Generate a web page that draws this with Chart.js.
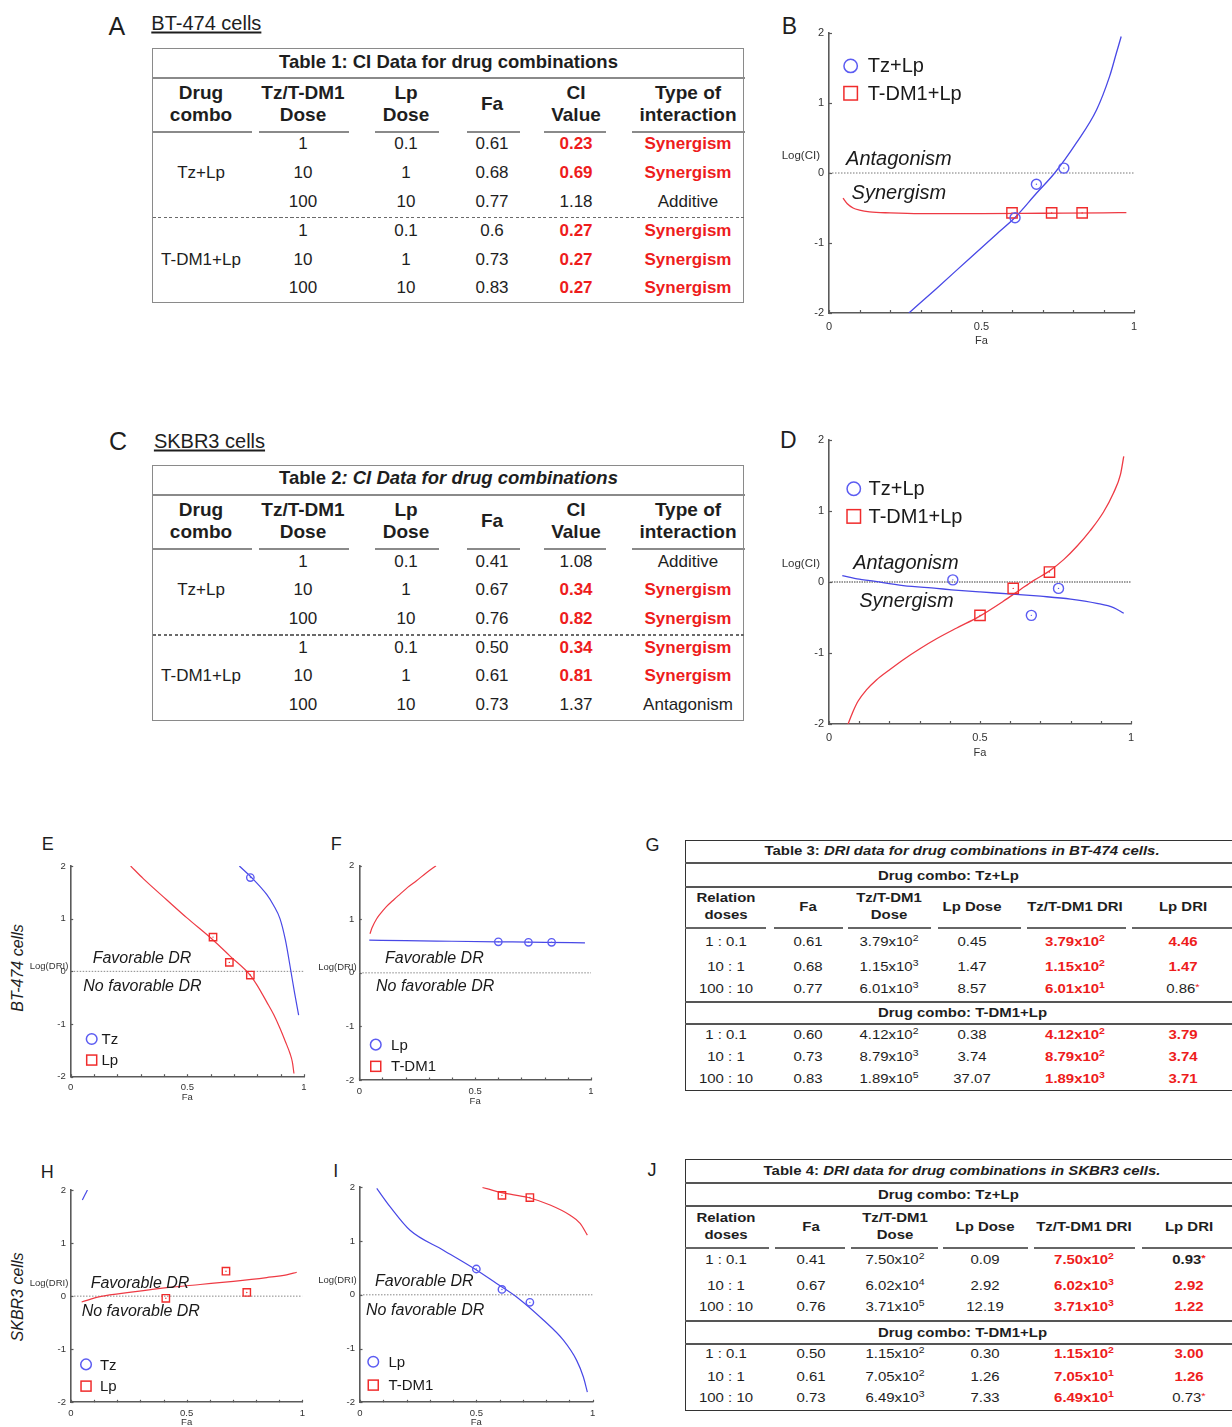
<!DOCTYPE html>
<html><head><meta charset="utf-8">
<script src="https://cdn.jsdelivr.net/npm/chart.js@4.4.1/dist/chart.umd.min.js"></script>
<style>
html,body{margin:0;padding:0;background:#fff;overflow:hidden}
body{width:1232px;height:1427px;position:relative;font-family:"Liberation Sans",Arial,Helvetica,sans-serif;color:#1e1e1e}
.t{position:absolute;white-space:nowrap;line-height:1.15}
canvas{position:absolute}
sup{font-size:0.7em;line-height:0;vertical-align:0.5em}
</style></head><body>
<script>
// ================= DATA =================
// Panel B : BT-474, Log(CI) vs Fa
const B_tzLp_fa = [0.61, 0.68, 0.77];
const B_tzLp_logCI = [-0.64, -0.16, 0.07];
const B_tdm1Lp_fa = [0.60, 0.73, 0.83];
const B_tdm1Lp_logCI = [-0.57, -0.57, -0.57];
const B_tzLp_curveFa = [0.262,0.35,0.461,0.55,0.609,0.68,0.74,0.811,0.877,0.92,0.942,0.958];
const B_tzLp_curveLog = [-2.0,-1.66,-1.22,-0.87,-0.64,-0.29,0.0,0.43,0.9,1.38,1.71,1.95];
const B_tdm1Lp_curveFa = [0.046,0.06,0.079,0.1,0.133,0.2,0.3,0.5,0.7,0.9,0.975];
const B_tdm1Lp_curveLog = [-0.36,-0.44,-0.5,-0.53,-0.555,-0.57,-0.58,-0.58,-0.575,-0.57,-0.565];
// Panel D : SKBR3, Log(CI) vs Fa
const D_tzLp_fa = [0.41, 0.67, 0.76];
const D_tzLp_logCI = [0.03, -0.47, -0.09];
const D_tdm1Lp_fa = [0.50, 0.61, 0.73];
const D_tdm1Lp_logCI = [-0.47, -0.09, 0.14];
const D_tzLp_curveFa = [0.044,0.1,0.135,0.246,0.356,0.406,0.5,0.607,0.7,0.8,0.887,0.942,0.976];
const D_tzLp_curveLog = [0.09,0.04,0.02,-0.05,-0.09,-0.11,-0.14,-0.17,-0.2,-0.24,-0.3,-0.36,-0.44];
const D_tdm1Lp_curveFa = [0.063,0.080,0.096,0.124,0.157,0.201,0.246,0.301,0.356,0.423,0.498,0.577,0.633,0.677,0.728,0.777,0.821,0.865,0.909,0.942,0.965,0.976];
const D_tdm1Lp_curveLog = [-2.0,-1.82,-1.68,-1.52,-1.38,-1.235,-1.094,-0.94,-0.80,-0.648,-0.484,-0.272,-0.108,0.019,0.15,0.315,0.503,0.723,0.986,1.254,1.512,1.77];
// Panel E : BT-474 Tz+Lp, Log(DRI)
const E_tz_fa = [0.77];
const E_tz_logDRI = [1.78];
const E_lp_fa = [0.61, 0.68, 0.77];
const E_lp_logDRI = [0.65, 0.17, -0.07];
const E_tz_curveFa = [0.723,0.771,0.84,0.87,0.897,0.92,0.944,0.96,0.977];
const E_tz_curveLog = [2.0,1.8,1.46,1.25,1.0,0.6,0.0,-0.42,-0.83];
const E_lp_curveFa = [0.257,0.311,0.411,0.497,0.609,0.683,0.769,0.8,0.84,0.87,0.897,0.92,0.94,0.95,0.957];
const E_lp_curveLog = [2.0,1.76,1.36,1.02,0.6,0.29,-0.07,-0.27,-0.58,-0.82,-1.08,-1.33,-1.56,-1.72,-1.94];
// Panel F : BT-474 T-DM1+Lp, Log(DRI)
const F_lp_fa = [0.60, 0.73, 0.83];
const F_lp_logDRI = [0.58, 0.57, 0.57];
const F_lp_curveFa = [0.043,0.2,0.4,0.6,0.8,0.974];
const F_lp_curveLog = [0.61,0.6,0.59,0.58,0.57,0.56];
const F_tdm1_curveFa = [0.046,0.055,0.075,0.1,0.118,0.15,0.176,0.21,0.247,0.29,0.331];
const F_tdm1_curveLog = [0.73,0.84,1.01,1.15,1.24,1.37,1.47,1.6,1.72,1.87,2.0];
// Panel H : SKBR3 Tz+Lp, Log(DRI)
const H_lp_fa = [0.41, 0.67, 0.76];
const H_lp_logDRI = [-0.04, 0.47, 0.07];
const H_tz_curveFa = [0.049, 0.071];
const H_tz_curveLog = [1.81, 2.0];
const H_lp_curveFa = [0.046,0.125,0.269,0.414,0.558,0.702,0.846,0.932,0.976];
const H_lp_curveLog = [-0.11,-0.01,0.08,0.16,0.22,0.28,0.35,0.40,0.45];
// Panel I : SKBR3 T-DM1+Lp, Log(DRI)
const I_lp_fa = [0.50, 0.61, 0.73];
const I_lp_logDRI = [0.48, 0.10, -0.14];
const I_tdm1_fa = [0.61, 0.73];
const I_tdm1_logDRI = [1.85, 1.81];
const I_lp_curveFa = [0.072,0.129,0.215,0.358,0.497,0.587,0.673,0.788,0.874,0.931,0.96,0.977];
const I_lp_curveLog = [1.98,1.64,1.2,0.83,0.47,0.21,-0.04,-0.47,-0.845,-1.22,-1.53,-1.81];
const I_tdm1_curveFa = [0.526,0.609,0.723,0.817,0.903,0.946,0.977];
const I_tdm1_curveLog = [2.0,1.9,1.81,1.67,1.48,1.33,1.11];
// Tick labels
const xTickLabelValues = [0, 0.5, 1];
const xTickLabelTexts = ['0', '0.5', '1'];

// Tables 1 & 2 (CI data)
const ciHeaders = [['Drug','combo'],['Tz/T-DM1','Dose'],['Lp','Dose'],['Fa'],['CI','Value'],['Type of','interaction']];
const ciCombos = ['Tz+Lp','T-DM1+Lp'];
const ciTzDose = ['1','10','100','1','10','100'];
const ciLpDose = ['0.1','1','10','0.1','1','10'];
const t1_fa = ['0.61','0.68','0.77','0.6','0.73','0.83'];
const t1_ci = ['0.23','0.69','1.18','0.27','0.27','0.27'];
const t1_type = ['Synergism','Synergism','Additive','Synergism','Synergism','Synergism'];
const t2_fa = ['0.41','0.67','0.76','0.50','0.61','0.73'];
const t2_ci = ['1.08','0.34','0.82','0.34','0.81','1.37'];
const t2_type = ['Additive','Synergism','Synergism','Synergism','Synergism','Antagonism'];
// Tables 3 & 4 (DRI data)
const driHeaders = [['Relation','doses'],['Fa'],['Tz/T-DM1','Dose'],['Lp Dose'],['Tz/T-DM1 DRI'],['Lp DRI']];
const driRelation = ['1 : 0.1','10 : 1','100 : 10','1 : 0.1','10 : 1','100 : 10'];
const t3_fa = ['0.61','0.68','0.77','0.60','0.73','0.83'];
const t3_tzDose = ['3.79x10^2','1.15x10^3','6.01x10^3','4.12x10^2','8.79x10^3','1.89x10^5'];
const t3_lpDose = ['0.45','1.47','8.57','0.38','3.74','37.07'];
const t3_tzDRI = ['3.79x10^2','1.15x10^2','6.01x10^1','4.12x10^2','8.79x10^2','1.89x10^3'];
const t3_lpDRI = ['4.46','1.47','0.86*','3.79','3.74','3.71'];
const t3_lpDRIstyle = ['r','r','k','r','r','r'];
const t4_fa = ['0.41','0.67','0.76','0.50','0.61','0.73'];
const t4_tzDose = ['7.50x10^2','6.02x10^4','3.71x10^5','1.15x10^2','7.05x10^2','6.49x10^3'];
const t4_lpDose = ['0.09','2.92','12.19','0.30','1.26','7.33'];
const t4_tzDRI = ['7.50x10^2','6.02x10^3','3.71x10^3','1.15x10^2','7.05x10^1','6.49x10^1'];
const t4_lpDRI = ['0.93*','2.92','1.22','3.00','1.26','0.73*'];
const t4_lpDRIstyle = ['kb','r','r','r','r','k'];

// ================= helpers =================
const FONT = '"Liberation Sans", Arial, Helvetica, sans-serif';
const RED = '#ee1c1c';
function T(html, x, y, o) {
  o = o || {};
  const d = document.createElement('div'); d.className = 't'; d.innerHTML = html;
  const s = d.style;
  s.fontSize = (o.size || 14) + 'px';
  if (o.bold) s.fontWeight = 'bold';
  if (o.italic) s.fontStyle = 'italic';
  if (o.color) s.color = o.color;
  if (o.u) { s.textDecoration = 'underline'; s.textUnderlineOffset = '2px'; }
  s.left = x + 'px'; s.top = y + 'px';
  const ax = o.align === 'left' ? '0' : (o.align === 'right' ? '-100%' : '-50%');
  let tr = 'translate(' + ax + ',-50%)';
  if (o.sx) tr += ' scaleX(' + o.sx + ')';
  if (o.rot) tr += ' rotate(' + o.rot + 'deg)';
  s.transform = tr;
  s.transformOrigin = o.align === 'left' ? 'left center' : (o.align === 'right' ? 'right center' : 'center center');
  document.body.appendChild(d); return d;
}
function HL(x1, x2, y, th, color, dash) {
  const d = document.createElement('div'); const s = d.style;
  s.position = 'absolute'; s.left = x1 + 'px'; s.width = (x2 - x1) + 'px';
  s.top = (y - th / 2) + 'px'; s.height = th + 'px';
  s.background = dash ? 'repeating-linear-gradient(90deg,' + color + ' 0 3px,transparent 3px 5.5px)' : color;
  document.body.appendChild(d);
}
function BOX(x1, y1, x2, y2, th, color) {
  const d = document.createElement('div'); const s = d.style;
  s.position = 'absolute'; s.left = x1 + 'px'; s.top = y1 + 'px';
  s.width = (x2 - x1 - 2 * th) + 'px'; s.height = (y2 - y1 - 2 * th) + 'px';
  s.border = th + 'px solid ' + color;
  document.body.appendChild(d);
}
function sci(v) { return v.replace(/\^(\d+)/, '<sup>$1</sup>'); }
function star(v) { return v.replace('*', '<span style="color:' + RED + ';font-size:0.75em;vertical-align:0.3em">*</span>'); }

// ================= Tables 1 & 2 =================
function ciTable(o) {
  const L = 152, R = 745;
  const cols = [201, 303, 406, 492, 576, 688];
  const ul = [[152, 251.5], [259, 349], [375, 439.2], [467, 519.6], [544.4, 606.3], [632.4, 745]];
  BOX(L, o.top, R, o.bottom, 1.5, '#8a8a8a');
  T(o.title, 448.5, o.titleY, {size: 18.5, bold: true});
  HL(L, R, o.titleLine, 2, '#8a8a8a');
  ciHeaders.forEach((h, i) => {
    if (h.length === 2) { T(h[0], cols[i], o.h1, {size: 19, bold: true}); T(h[1], cols[i], o.h2, {size: 19, bold: true}); }
    else T(h[0], cols[i], (o.h1 + o.h2) / 2, {size: 19, bold: true});
  });
  ul.forEach(u => HL(u[0], u[1], o.ul, 2.2, '#8a8a8a'));
  HL(L + 1, R - 1, o.dash, 1.6, '#6a6a6a', true);
  T(ciCombos[0], cols[0], o.rows[1], {size: 17});
  T(ciCombos[1], cols[0], o.rows[4], {size: 17});
  for (let i = 0; i < 6; i++) {
    const y = o.rows[i];
    const syn = o.type[i] === 'Synergism';
    T(ciTzDose[i], cols[1], y, {size: 17});
    T(ciLpDose[i], cols[2], y, {size: 17});
    T(o.fa[i], cols[3], y, {size: 17});
    T(o.ci[i], cols[4], y, {size: 17, bold: syn, color: syn ? RED : null});
    T(o.type[i], cols[5], y, {size: 17, bold: syn, color: syn ? RED : null});
  }
}
T('A', 108.4, 25.5, {size: 25, align: 'left'});
T('BT-474 cells', 151.3, 23, {size: 20, align: 'left', u: true});
ciTable({top: 47.7, bottom: 304.5, titleY: 62.3, titleLine: 78.3, h1: 93.3, h2: 115, ul: 132, dash: 217.7,
  rows: [144.3, 173.3, 202.3, 231, 260, 288.3], title: 'Table 1: CI Data for drug combinations',
  fa: t1_fa, ci: t1_ci, type: t1_type});
T('C', 109, 441, {size: 25, align: 'left'});
T('SKBR3 cells', 153.9, 440.5, {size: 20, align: 'left', u: true});
ciTable({top: 465, bottom: 721.5, titleY: 478.3, titleLine: 495, h1: 510, h2: 532, ul: 549, dash: 635,
  rows: [561.7, 590, 619, 647.7, 675.7, 705], title: 'Table 2<i>: CI Data for drug combinations</i>',
  fa: t2_fa, ci: t2_ci, type: t2_type});

// ================= Tables 3 & 4 =================
function driTable(o) {
  const L = 684.5, R = 1240;
  const SX = 1.15, FS = 13;
  BOX(L, o.top, R, o.bottom, 1.5, '#333');
  T(o.title, 962, o.titleY, {size: FS, bold: true, sx: SX});
  HL(L, R, o.l1, 2, '#555');
  T(o.combo1, 877.6, o.c1, {size: FS, bold: true, sx: SX, align: 'left'});
  HL(L, R, o.l2, 2, '#555');
  driHeaders.forEach((h, i) => {
    if (h.length === 2) { T(h[0], o.cols[i], o.h1, {size: FS, bold: true, sx: SX}); T(h[1], o.cols[i], o.h2, {size: FS, bold: true, sx: SX}); }
    else T(h[0], o.cols[i], (o.h1 + o.h2) / 2, {size: FS, bold: true, sx: SX});
  });
  o.ul.forEach(u => HL(u[0], u[1], o.ulY, 2, '#666'));
  HL(L, R, o.l3, 2, '#555');
  T(o.combo2, 877.6, o.c2, {size: FS, bold: true, sx: SX, align: 'left'});
  HL(L, R, o.l4, 2, '#555');
  for (let i = 0; i < 6; i++) {
    const y = o.rows[i];
    T(driRelation[i], o.cols[0], y, {size: FS, sx: SX});
    T(o.fa[i], o.cols[1], y, {size: FS, sx: SX});
    T(sci(o.tzDose[i]), o.cols[2], y, {size: FS, sx: SX});
    T(o.lpDose[i], o.cols[3], y, {size: FS, sx: SX});
    T(sci(o.tzDRI[i]), o.cols[4], y, {size: FS, sx: SX, bold: true, color: RED});
    const st = o.lpStyle[i];
    T(star(o.lpDRI[i]), o.cols[5], y, {size: FS, sx: SX, bold: st !== 'k', color: st === 'r' ? RED : null});
  }
}
T('G', 645.5, 845, {size: 18, align: 'left'});
driTable({top: 840, bottom: 1092, titleY: 850.5, l1: 863.3, c1: 875.5, l2: 887.3, h1: 898.3, h2: 915, ulY: 928.3,
  rows: [941.7, 966.7, 989.3, 1035, 1057.3, 1079.3], l3: 1001.7, c2: 1012.7, l4: 1024,
  cols: [726.4, 808.3, 889.4, 972, 1074.8, 1183.4],
  ul: [[684.5, 766.4], [774, 842.5], [847.5, 931.3], [937.7, 1021.5], [1027, 1125.5], [1132, 1240]],
  title: 'Table 3: <i>DRI data for drug combinations in BT-474 cells.</i>',
  combo1: 'Drug combo: Tz+Lp', combo2: 'Drug combo: T-DM1+Lp',
  fa: t3_fa, tzDose: t3_tzDose, lpDose: t3_lpDose, tzDRI: t3_tzDRI, lpDRI: t3_lpDRI, lpStyle: t3_lpDRIstyle});
T('J', 647.5, 1170, {size: 18, align: 'left'});
driTable({top: 1159.3, bottom: 1412.5, titleY: 1170.5, l1: 1182.7, c1: 1195, l2: 1206, h1: 1218.3, h2: 1235, ulY: 1248.3,
  rows: [1260, 1286, 1307.3, 1354, 1376.7, 1398.3], l3: 1320.7, c2: 1332.7, l4: 1344,
  cols: [726.4, 811, 894.7, 985.3, 1084.4, 1189],
  ul: [[684.5, 769], [775, 845], [851, 937.7], [942.7, 1028], [1034, 1135], [1141.5, 1240]],
  title: 'Table 4: <i>DRI data for drug combinations in SKBR3 cells.</i>',
  combo1: 'Drug combo: Tz+Lp', combo2: 'Drug combo: T-DM1+Lp',
  fa: t4_fa, tzDose: t4_tzDose, lpDose: t4_lpDose, tzDRI: t4_tzDRI, lpDRI: t4_lpDRI, lpStyle: t4_lpDRIstyle});

// ================= Charts =================
Chart.defaults.font.family = FONT;
Chart.defaults.animation = false;
const AXIS = '#5a5a5a';
const BLUE_L = '#4848e6', RED_L = '#ee3a44', BLUE_M = '#5c5cf2', RED_M = '#f02c2c';
function pairs(xs, ys) { return xs.map((x, i) => ({x: x, y: ys[i]})); }
function xLabel(v) {
  for (let i = 0; i < xTickLabelValues.length; i++) if (Math.abs(v - xTickLabelValues[i]) < 1e-6) return xTickLabelTexts[i];
  return '';
}
function decoPlugin(sp) {
  return {
    id: 'deco',
    afterDraw(chart) {
      const ctx = chart.ctx, xs = chart.scales.x, ys = chart.scales.y, a = chart.chartArea;
      ctx.save();
      ctx.strokeStyle = AXIS; ctx.lineWidth = 1.2;
      xs.ticks.forEach(t => { const p = Math.round(xs.getPixelForValue(t.value)) + 0.5; ctx.beginPath(); ctx.moveTo(p, a.bottom); ctx.lineTo(p, a.bottom - sp.tl); ctx.stroke(); });
      ys.ticks.forEach(t => { const p = Math.round(ys.getPixelForValue(t.value)) + 0.5; ctx.beginPath(); ctx.moveTo(a.left, p); ctx.lineTo(a.left + sp.tl, p); ctx.stroke(); });
      // y-axis title (horizontal)
      ctx.fillStyle = '#333'; ctx.textBaseline = 'middle'; ctx.textAlign = 'right';
      ctx.font = sp.yt.size + 'px ' + FONT;
      ctx.fillText(sp.yt.t, a.left - sp.yt.gap, ys.getPixelForValue(sp.yt.y));
      // region annotations
      ctx.fillStyle = '#1a1a1a'; ctx.textAlign = 'left';
      ctx.font = 'italic ' + sp.tsize + 'px ' + FONT;
      sp.texts.forEach(t => ctx.fillText(t.t, xs.getPixelForValue(t.x), ys.getPixelForValue(t.y)));
      // legend
      const lg = sp.legend;
      ctx.font = lg.size + 'px ' + FONT;
      lg.items.forEach(it => {
        const mx = xs.getPixelForValue(lg.x), my = ys.getPixelForValue(it.y);
        ctx.lineWidth = 1.5;
        if (it.style === 'circle') { ctx.strokeStyle = BLUE_M; ctx.beginPath(); ctx.arc(mx, my, lg.mr, 0, Math.PI * 2); ctx.stroke(); }
        else { ctx.strokeStyle = RED_M; ctx.strokeRect(mx - lg.ms / 2, my - lg.ms / 2, lg.ms, lg.ms); }
        ctx.fillStyle = '#1a1a1a';
        ctx.fillText(it.text, xs.getPixelForValue(lg.tx), my + 1);
      });
      ctx.restore();
    }
  };
}
function mkChart(sp) {
  const cv = document.createElement('canvas');
  cv.width = sp.cw; cv.height = sp.ch;
  cv.style.left = sp.cx + 'px'; cv.style.top = sp.cy + 'px';
  document.body.appendChild(cv);
  const A = sp.area;
  const yW = A.l - sp.cx, xH = sp.cy + sp.ch - A.b;
  const ds = [];
  ds.push({data: [{x: 0, y: 0}, {x: 1, y: 0}], showLine: true, borderColor: sp.zero.c, borderWidth: sp.zero.w,
    borderDash: sp.zero.d, pointRadius: 0, order: 10});
  sp.curves.forEach(c => ds.push({data: pairs(c.x, c.y), showLine: true, borderColor: c.c, borderWidth: sp.lw,
    pointRadius: 0, cubicInterpolationMode: 'monotone', order: 5}));
  sp.marks.forEach(m => {
    ds.push({data: pairs(m.x, m.y), showLine: false, pointStyle: m.s, pointRadius: m.r, borderColor: m.c,
      borderWidth: 1.4, backgroundColor: 'rgba(0,0,0,0)', order: 2});
    ds.push({data: pairs(m.x, m.y), showLine: false, pointStyle: 'circle', pointRadius: 0.7, borderWidth: 0,
      backgroundColor: m.c, order: 1});
  });
  new Chart(cv, {
    type: 'scatter',
    data: {datasets: ds},
    plugins: [decoPlugin(sp)],
    options: {
      responsive: false, animation: false, events: [],
      layout: {padding: {left: 0, top: A.t - sp.cy, right: sp.cx + sp.cw - A.r, bottom: 0}},
      plugins: {legend: {display: false}, tooltip: {enabled: false}},
      scales: {
        x: {type: 'linear', min: 0, max: 1,
          grid: {display: false, drawTicks: false},
          border: {display: true, color: AXIS, width: 1.6},
          ticks: {stepSize: 0.1, autoSkip: false, maxRotation: 0, padding: sp.xtp, color: '#333', font: {size: sp.fs}, callback: v => xLabel(v)},
          title: {display: true, text: 'Fa', color: '#333', font: {size: sp.fs}, padding: {top: 0, bottom: sp.xtb}},
          afterFit: s => { s.height = xH; }},
        y: {type: 'linear', min: -2, max: 2,
          grid: {display: false, drawTicks: false},
          border: {display: true, color: AXIS, width: 1.6},
          ticks: {stepSize: 1, padding: sp.ytp, color: '#333', font: {size: sp.fs}},
          afterFit: s => { s.width = yW; }}
      }
    }
  });
}

// Panel B
T('B', 781.7, 25.8, {size: 23, align: 'left'});
mkChart({cx: 770, cy: 18, cw: 390, ch: 332, area: {l: 829, t: 33, r: 1134, b: 313}, fs: 11, xtp: 7, xtb: 2.4, ytp: 5, tl: 3, lw: 1.3,
  zero: {c: '#777', w: 1, d: [1.5, 1.5]},
  curves: [{x: B_tdm1Lp_curveFa, y: B_tdm1Lp_curveLog, c: RED_L}, {x: B_tzLp_curveFa, y: B_tzLp_curveLog, c: BLUE_L}],
  marks: [{x: B_tzLp_fa, y: B_tzLp_logCI, s: 'circle', r: 5, c: BLUE_M}, {x: B_tdm1Lp_fa, y: B_tdm1Lp_logCI, s: 'rect', r: 7.3, c: RED_M}],
  legend: {x: 0.071, tx: 0.127, size: 20, mr: 6.7, ms: 13.5, items: [{y: 1.53, style: 'circle', text: 'Tz+Lp'}, {y: 1.139, style: 'rect', text: 'T-DM1+Lp'}]},
  texts: [{t: 'Antagonism', x: 0.056, y: 0.196}, {t: 'Synergism', x: 0.074, y: -0.29}], tsize: 20,
  yt: {t: 'Log(CI)', gap: 9, y: 0.243, size: 11.5}});
// Panel D
T('D', 780, 440.3, {size: 23, align: 'left'});
mkChart({cx: 770, cy: 425, cw: 390, ch: 340, area: {l: 829, t: 440, r: 1131, b: 724}, fs: 11, xtp: 7.4, xtb: 5.1, ytp: 5, tl: 3, lw: 1.3,
  zero: {c: '#9c9c9c', w: 2, d: [1.5, 1]},
  curves: [{x: D_tzLp_curveFa, y: D_tzLp_curveLog, c: BLUE_L}, {x: D_tdm1Lp_curveFa, y: D_tdm1Lp_curveLog, c: RED_L}],
  marks: [{x: D_tzLp_fa, y: D_tzLp_logCI, s: 'circle', r: 5, c: BLUE_M}, {x: D_tdm1Lp_fa, y: D_tdm1Lp_logCI, s: 'rect', r: 7.3, c: RED_M}],
  legend: {x: 0.082, tx: 0.131, size: 20, mr: 6.7, ms: 13.5, items: [{y: 1.314, style: 'circle', text: 'Tz+Lp'}, {y: 0.924, style: 'rect', text: 'T-DM1+Lp'}]},
  texts: [{t: 'Antagonism', x: 0.08, y: 0.268}, {t: 'Synergism', x: 0.1, y: -0.273}], tsize: 20,
  yt: {t: 'Log(CI)', gap: 9, y: 0.254, size: 11.5}});
// Panel E
T('E', 41.7, 843.8, {size: 18, align: 'left'});
T('BT-474 cells', 17.5, 967.5, {size: 16, italic: true, rot: -90});
mkChart({cx: 28, cy: 855, cw: 300, ch: 255, area: {l: 70.7, t: 866, r: 304, b: 1076.7}, fs: 9.5, xtp: 5.3, xtb: 6.6, ytp: 5, tl: 2.5, lw: 1.2,
  zero: {c: '#888', w: 1, d: [1.5, 1.5]},
  curves: [{x: E_lp_curveFa, y: E_lp_curveLog, c: RED_L}, {x: E_tz_curveFa, y: E_tz_curveLog, c: BLUE_L}],
  marks: [{x: E_tz_fa, y: E_tz_logDRI, s: 'circle', r: 3.7, c: BLUE_M}, {x: E_lp_fa, y: E_lp_logDRI, s: 'rect', r: 5.2, c: RED_M}],
  legend: {x: 0.09, tx: 0.132, size: 15, mr: 5.3, ms: 10, items: [{y: -1.285, style: 'circle', text: 'Tz'}, {y: -1.684, style: 'rect', text: 'Lp'}]},
  texts: [{t: 'Favorable DR', x: 0.094, y: 0.252}, {t: 'No favorable DR', x: 0.054, y: -0.28}], tsize: 16,
  yt: {t: 'Log(DRI)', gap: 2.4, y: 0.087, size: 9.5}});
// Panel F
T('F', 330.7, 843.8, {size: 18, align: 'left'});
mkChart({cx: 315, cy: 855, cw: 300, ch: 255, area: {l: 359.3, t: 865, r: 591, b: 1080}, fs: 9.5, xtp: 5.3, xtb: 3.3, ytp: 5, tl: 2.5, lw: 1.2,
  zero: {c: '#888', w: 1, d: [1.5, 1.5]},
  curves: [{x: F_tdm1_curveFa, y: F_tdm1_curveLog, c: RED_L}, {x: F_lp_curveFa, y: F_lp_curveLog, c: BLUE_L}],
  marks: [{x: F_lp_fa, y: F_lp_logDRI, s: 'circle', r: 3.7, c: BLUE_M}],
  legend: {x: 0.071, tx: 0.137, size: 15, mr: 5.3, ms: 10, items: [{y: -1.34, style: 'circle', text: 'Lp'}, {y: -1.745, style: 'rect', text: 'T-DM1'}]},
  texts: [{t: 'Favorable DR', x: 0.111, y: 0.27}, {t: 'No favorable DR', x: 0.072, y: -0.25}], tsize: 16,
  yt: {t: 'Log(DRI)', gap: 2.6, y: 0.11, size: 9.5}});
// Panel H
T('H', 40.7, 1171.7, {size: 18, align: 'left'});
T('SKBR3 cells', 18.3, 1296.7, {size: 16, italic: true, rot: -90});
mkChart({cx: 28, cy: 1178, cw: 300, ch: 260, area: {l: 71, t: 1190, r: 302.3, b: 1402.3}, fs: 9.5, xtp: 5.3, xtb: 10, ytp: 5, tl: 2.5, lw: 1.2,
  zero: {c: '#888', w: 1, d: [1.5, 1.5]},
  curves: [{x: H_tz_curveFa, y: H_tz_curveLog, c: BLUE_L}, {x: H_lp_curveFa, y: H_lp_curveLog, c: RED_L}],
  marks: [{x: H_lp_fa, y: H_lp_logDRI, s: 'rect', r: 5.2, c: RED_M}],
  legend: {x: 0.065, tx: 0.125, size: 15, mr: 5.3, ms: 10, items: [{y: -1.286, style: 'circle', text: 'Tz'}, {y: -1.695, style: 'rect', text: 'Lp'}]},
  texts: [{t: 'Favorable DR', x: 0.085, y: 0.239}, {t: 'No favorable DR', x: 0.046, y: -0.295}], tsize: 16,
  yt: {t: 'Log(DRI)', gap: 2.7, y: 0.239, size: 9.5}});
// Panel I
T('I', 333.3, 1171, {size: 18, align: 'left'});
mkChart({cx: 315, cy: 1175, cw: 300, ch: 263, area: {l: 360, t: 1187.3, r: 592.7, b: 1402.3}, fs: 9.5, xtp: 5.3, xtb: 10.3, ytp: 5, tl: 2.5, lw: 1.2,
  zero: {c: '#888', w: 1, d: [1.5, 1.5]},
  curves: [{x: I_tdm1_curveFa, y: I_tdm1_curveLog, c: RED_L}, {x: I_lp_curveFa, y: I_lp_curveLog, c: BLUE_L}],
  marks: [{x: I_lp_fa, y: I_lp_logDRI, s: 'circle', r: 3.7, c: BLUE_M}, {x: I_tdm1_fa, y: I_tdm1_logDRI, s: 'rect', r: 5.2, c: RED_M}],
  legend: {x: 0.057, tx: 0.122, size: 15, mr: 5.3, ms: 10, items: [{y: -1.246, style: 'circle', text: 'Lp'}, {y: -1.68, style: 'rect', text: 'T-DM1'}]},
  texts: [{t: 'Favorable DR', x: 0.064, y: 0.242}, {t: 'No favorable DR', x: 0.026, y: -0.285}], tsize: 16,
  yt: {t: 'Log(DRI)', gap: 3.3, y: 0.26, size: 9.5}});
</script>
</body></html>
